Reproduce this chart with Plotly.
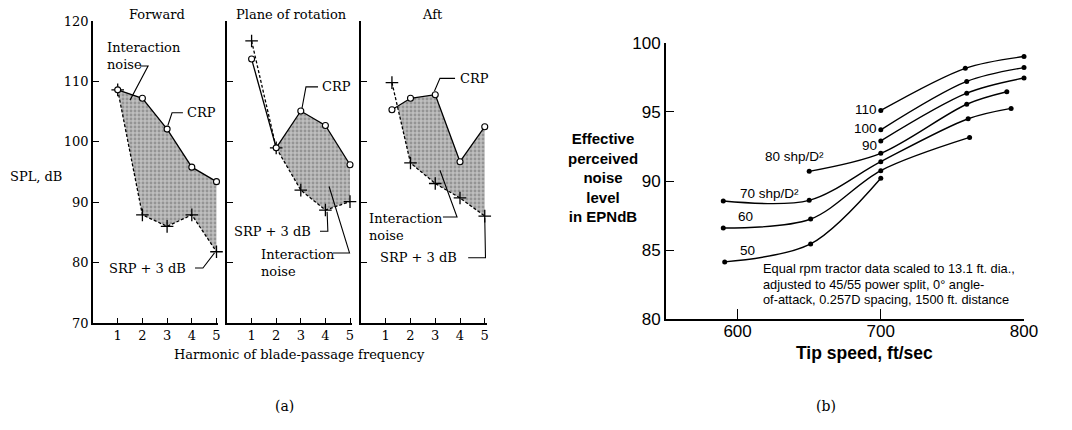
import numpy as np
import plotly.graph_objects as go

# ---------------- (a) harmonic levels, SPL in dB ----------------
harmonics = [1, 2, 3, 4, 5]
aft_harmonics = [1.25, 2, 3, 4, 5]

fwd_crp = [108.6, 107.2, 102.1, 95.8, 93.4]
fwd_srp = [108.6, 87.9, 86.0, 87.9, 81.8]

rot_crp = [113.7, 99.0, 105.1, 102.7, 96.2]
rot_srp = [116.7, 99.0, 92.0, 88.7, 90.1]

aft_crp = [105.3, 107.2, 107.8, 96.7, 102.5]
aft_srp = [109.8, 96.5, 93.1, 90.7, 87.7]

spl_ticks = [70, 80, 90, 100, 110, 120]

# ---------------- (b) EPNdB vs tip speed ----------------
speed_110 = [700, 759, 800]
epn_110 = [95.1, 98.15, 99.0]
speed_100 = [700, 760, 800]
epn_100 = [93.7, 97.2, 98.2]
speed_90 = [700, 760, 800]
epn_90 = [92.9, 96.35, 97.45]
speed_80 = [650, 700, 760, 788]
epn_80 = [90.7, 92.0, 95.55, 96.45]
speed_70 = [590, 650, 700, 761, 791]
epn_70 = [88.55, 88.6, 91.4, 94.5, 95.25]
speed_60 = [590, 651, 700, 762]
epn_60 = [86.6, 87.25, 90.75, 93.15]
speed_50 = [591, 651, 700]
epn_50 = [84.15, 85.45, 90.2]

speed_ticks = [600, 700, 800]
epn_ticks = [80, 85, 90, 95, 100]

SERIF = "DejaVu Serif"
SANS = "Liberation Sans"
W, H = 1072, 430


def px_x(p):
    return p / W


def px_y(p):
    return 1 - p / H


def interaction_region(x, upper, lower):
    """Polygon enclosing the part where upper >= lower (one contiguous span)."""
    x = np.asarray(x, float)
    u = np.asarray(upper, float)
    l = np.asarray(lower, float)
    d = u - l
    xs, top, bot = [], [], []
    for i in range(len(x)):
        if i > 0 and d[i - 1] * d[i] < 0:
            t = d[i - 1] / (d[i - 1] - d[i])
            xc = x[i - 1] + t * (x[i] - x[i - 1])
            yc = u[i - 1] + t * (u[i] - u[i - 1])
            xs.append(xc); top.append(yc); bot.append(yc)
        if d[i] >= 0:
            xs.append(x[i]); top.append(u[i]); bot.append(l[i])
    return xs + xs[::-1], top + bot[::-1]


fig = go.Figure()


def add_spectrum(n, x, crp, srp):
    xa = "x" if n == 1 else f"x{n}"
    ya = "y" if n == 1 else f"y{n}"
    fx, fy = interaction_region(x, crp, srp)
    fig.add_trace(go.Scatter(
        x=fx, y=fy, xaxis=xa, yaxis=ya, mode="none", fill="toself",
        fillcolor="#b8b8b8",
        fillpattern=dict(shape=".", fgcolor="#6a6a6a", bgcolor="#bebebe",
                         size=4, solidity=0.4),
        hoverinfo="skip", showlegend=False))
    fig.add_trace(go.Scatter(
        x=x, y=srp, xaxis=xa, yaxis=ya, mode="lines+markers",
        line=dict(color="black", width=1.3, dash="3px,2px"),
        marker=dict(symbol="cross-thin", size=9,
                    line=dict(width=1.3, color="black")),
        cliponaxis=False, showlegend=False))
    fig.add_trace(go.Scatter(
        x=x, y=crp, xaxis=xa, yaxis=ya, mode="lines+markers",
        line=dict(color="black", width=1.3),
        marker=dict(symbol="circle", size=6, color="white",
                    line=dict(width=1.1, color="black")),
        cliponaxis=False, showlegend=False))


add_spectrum(1, harmonics, fwd_crp, fwd_srp)
add_spectrum(2, harmonics, rot_crp, rot_srp)
add_spectrum(3, aft_harmonics, aft_crp, aft_srp)

# EPNdB curves
for sp, lv in [(speed_110, epn_110), (speed_100, epn_100), (speed_90, epn_90),
               (speed_80, epn_80), (speed_70, epn_70), (speed_60, epn_60),
               (speed_50, epn_50)]:
    fig.add_trace(go.Scatter(
        x=sp, y=lv, xaxis="x4", yaxis="y4", mode="lines+markers",
        line=dict(color="black", width=1.4, shape="spline", smoothing=0.9),
        marker=dict(size=5, color="black"),
        cliponaxis=False, showlegend=False))

# ---------------- axes ----------------
XMAX = 5.08
ydom_a = [px_y(323), px_y(21)]
axis_line = dict(showline=True, linecolor="black", showgrid=False,
                 zeroline=False, ticks="inside", tickcolor="black",
                 automargin=False)

def harm_xaxis(x0, scale, anchor):
    return dict(axis_line, domain=[px_x(x0), px_x(x0 + XMAX * scale)],
                range=[0, XMAX], linewidth=1.6, ticklen=5, tickwidth=1.2,
                tickvals=harmonics, anchor=anchor, ticklabelstandoff=0,
                tickfont=dict(family=SERIF, size=13, color="black"))

def harm_yaxis(anchor, labels):
    return dict(axis_line, domain=ydom_a, range=[70, 120], linewidth=1.6,
                ticklen=6, tickwidth=1.2, tickvals=spl_ticks, anchor=anchor,
                showticklabels=labels,
                tickfont=dict(family=SERIF, size=13, color="black"))

fig.update_layout(
    xaxis=harm_xaxis(93, 24.7, "y"),
    yaxis=harm_yaxis("x", True),
    xaxis2=harm_xaxis(227, 24.6, "y2"),
    yaxis2=harm_yaxis("x2", False),
    xaxis3=harm_xaxis(361, 24.75, "y3"),
    yaxis3=harm_yaxis("x3", False),
    xaxis4=dict(axis_line, domain=[px_x(666), px_x(1024)], range=[550, 800],
                linewidth=2, ticklen=10, tickwidth=1.3, tickvals=speed_ticks,
                anchor="y4", ticklabelstandoff=-5,
                tickfont=dict(family=SANS, size=17, color="black")),
    yaxis4=dict(axis_line, domain=[px_y(319.3), px_y(42.7)], range=[80, 100],
                linewidth=2, ticklen=8, tickwidth=1.3, tickvals=epn_ticks,
                anchor="x4", tickfont=dict(family=SANS, size=17, color="black")),
)

# ---------------- text ----------------
ann = []

def paper_text(text, x, y, size=13, family=SERIF, xanchor="center", bold=False):
    if bold:
        text = f"<b>{text}</b>"
    ann.append(dict(text=text, x=px_x(x), y=px_y(y), xref="paper", yref="paper",
                    xanchor=xanchor, yanchor="middle", showarrow=False,
                    align="center" if xanchor == "center" else "left",
                    font=dict(family=family, size=size, color="black")))

def data_text(text, n, x, y, size=13, family=SERIF, xanchor="left"):
    ann.append(dict(text=text, x=x, y=y,
                    xref="x" if n == 1 else f"x{n}",
                    yref="y" if n == 1 else f"y{n}",
                    xanchor=xanchor, yanchor="middle", showarrow=False,
                    align="left",
                    font=dict(family=family, size=size, color="black")))

paper_text("Forward", 157, 14)
paper_text("Plane of rotation", 291, 15)
paper_text("Aft", 432, 15)
paper_text("SPL, dB", 8, 177, xanchor="left")
paper_text("Harmonic of blade-passage frequency", 299, 354)
paper_text("(a)", 284, 406, size=14)
paper_text("(b)", 826, 406, size=14)

data_text("Interaction<br>noise", 1, 0.49, 114.2)
data_text("CRP", 1, 3.72, 104.8)
data_text("SRP + 3 dB", 1, 0.57, 79.1)
data_text("CRP", 2, 3.78, 109.1)
data_text("SRP + 3 dB", 2, 0.2, 85.2)
data_text("Interaction<br>noise", 2, 1.3, 80.0)
data_text("CRP", 3, 3.92, 110.5)
data_text("Interaction<br>noise", 3, 0.24, 85.9)
data_text("SRP + 3 dB", 3, 0.69, 80.8)

paper_text("Effective<br>perceived<br>noise<br>level<br>in EPNdB", 603, 177.5,
           size=15, family=SANS, bold=True)
paper_text("Tip speed, ft/sec", 864, 353, size=17.5, family=SANS, bold=True)

note_lines = ["Equal rpm tractor data scaled to 13.1 ft. dia.,",
              "adjusted to 45/55 power split, 0° angle-",
              "of-attack, 0.257D spacing, 1500 ft. distance"]
for line, y in zip(note_lines, [268, 284, 299]):
    paper_text(line, 761, y, size=12.8, family=SANS, xanchor="left")

data_text("80 shp/D²", 4, 617.7, 91.74, size=13.5, family=SANS)
data_text("70 shp/D²", 4, 600.2, 89.13, size=13.5, family=SANS)
data_text("60", 4, 598.8, 87.4, size=13.5, family=SANS)
data_text("50", 4, 600.2, 84.94, size=13.5, family=SANS)
data_text("110", 4, 698.6, 95.2, size=13.5, family=SANS, xanchor="right")
data_text("100", 4, 698.6, 93.83, size=13.5, family=SANS, xanchor="right")
data_text("90", 4, 698.6, 92.6, size=13.5, family=SANS, xanchor="right")

# ---------------- leader lines ----------------
leaders = [
    (1, [(1.90, 112.55), (2.23, 112.55), (1.50, 106.9)]),
    (1, [(3.64, 104.8), (3.20, 104.8), (3.03, 102.7)]),
    (1, [(4.13, 79.1), (4.45, 79.1), (4.92, 81.6)]),
    (2, [(3.70, 109.1), (3.21, 109.1), (3.05, 105.6)]),
    (2, [(3.78, 85.2), (4.10, 85.2), (4.07, 88.4)]),
    (2, [(4.31, 81.6), (4.98, 81.6), (4.15, 92.6)]),
    (3, [(3.80, 110.5), (3.19, 110.5), (2.97, 108.4)]),
    (3, [(3.31, 87.55), (3.88, 87.55), (3.19, 95.3)]),
    (3, [(4.33, 80.8), (5.03, 80.8), (5.0, 87.4)]),
]
shapes = []
for n, pts in leaders:
    path = "M " + " L ".join(f"{a},{b}" for a, b in pts)
    shapes.append(dict(type="path", path=path,
                       xref="x" if n == 1 else f"x{n}",
                       yref="y" if n == 1 else f"y{n}",
                       line=dict(color="black", width=1.1)))

fig.update_layout(
    width=W, height=H, margin=dict(l=0, r=0, t=0, b=0, pad=0),
    paper_bgcolor="white", plot_bgcolor="rgba(0,0,0,0)",
    annotations=ann, shapes=shapes, showlegend=False,
)

# page body without the browser's default margin
fig.write_html("out.html",
               post_script="document.body.style.margin='0';"
                           "document.body.style.overflow='hidden';")
